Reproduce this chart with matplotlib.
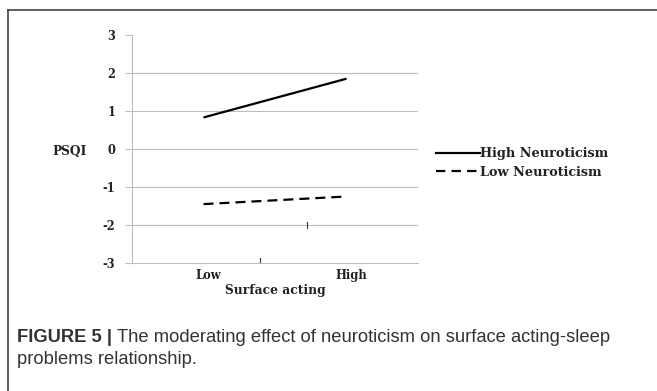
import matplotlib
matplotlib.use("Agg")
import matplotlib.pyplot as plt
import matplotlib.transforms as mtransforms
from matplotlib.lines import Line2D

# data
CATEGORIES = ["Low", "High"]
HIGH_NEURO = [0.83, 1.85]
LOW_NEURO = [-1.45, -1.25]
Y_TICKS = [-3, -2, -1, 0, 1, 2, 3]
SERIES_LABELS = ["High Neuroticism", "Low Neuroticism"]

WIDE_SERIF = "DejaVu Serif"
SANS = "Liberation Sans"
DARK = "#222222"
GRID = "#bdbdbd"

W, H = 657, 391
fig = plt.figure(figsize=(W / 100, H / 100), dpi=100)
fig.patch.set_facecolor("white")

# outer frame (top and left edges only visible)
fig.add_artist(Line2D([8 / W, 1.0], [1 - 10 / H, 1 - 10 / H], color="#444444", lw=1.2))
fig.add_artist(Line2D([8 / W, 8 / W], [0, 1 - 10 / H], color="#444444", lw=1.2))

ax = fig.add_axes([132 / W, 1 - 263 / H, (418 - 132) / W, (263 - 35) / H])
x = [0.5, 1.5]
ax.plot(x, HIGH_NEURO, color="black", lw=1.6, solid_capstyle="butt")
ax.plot(x, LOW_NEURO, color="black", lw=1.6, linestyle=(0, (4.5, 2.7)), dash_capstyle="butt")

# stray tick marks present in the original figure
ax.plot([0.895, 0.895], [-3, -2.88], color="#333333", lw=0.8)
ax.plot([1.224, 1.224], [-2.08, -1.92], color="#333333", lw=0.8)

ax.set_xlim(0, 2)
ax.set_ylim(-3, 3)
ax.set_yticks(Y_TICKS)
ax.set_yticklabels([str(v) for v in Y_TICKS], fontfamily=WIDE_SERIF, fontweight="bold", fontsize=8.3, color=DARK)
for v in Y_TICKS[1:-1]:
    ax.axhline(v, color=GRID, lw=0.8, zorder=0)
ax.set_xticks(x)
ax.set_xticklabels(CATEGORIES, fontfamily=WIDE_SERIF, fontweight="bold", fontsize=8.3, color=DARK)
ax.tick_params(axis="x", length=0, pad=4)
ax.tick_params(axis="y", length=5, color=GRID, pad=7)
shift = mtransforms.ScaledTranslation(5 / 100, 0, fig.dpi_scale_trans)
for lbl in ax.get_xticklabels():
    lbl.set_transform(lbl.get_transform() + shift)
for side in ["top", "right"]:
    ax.spines[side].set_visible(False)
for side in ["left", "bottom"]:
    ax.spines[side].set_color(GRID)
    ax.spines[side].set_linewidth(0.8)

ax.set_xlabel("Surface acting", fontfamily=WIDE_SERIF, fontweight="bold", fontsize=8.8, color=DARK, labelpad=2)
ax.set_ylabel("PSQI", fontfamily=WIDE_SERIF, fontweight="bold", fontsize=8.8, color=DARK, rotation=0,
              ha="right", va="center")
ax.yaxis.set_label_coords((87 - 132) / (418 - 132), 0.49)

handles = [
    Line2D([], [], color="black", lw=1.6),
    Line2D([], [], color="black", lw=1.6, linestyle=(0, (4.2, 2.8))),
]
fig.legend(handles, SERIES_LABELS, loc="center left", bbox_to_anchor=(424 / W, 1 - 163 / H),
           frameon=False, handlelength=3.4, handletextpad=0.05, labelspacing=0.45,
           prop={"family": WIDE_SERIF, "weight": "bold", "size": 9.3}, labelcolor=DARK)

# caption: bold lead followed by regular text
renderer = fig.canvas.get_renderer()
cap_y1 = 1 - 337 / H
cap_y2 = 1 - 359 / H
lead = fig.text(17 / W, cap_y1, "FIGURE 5 | ", fontfamily=SANS, fontweight="bold", fontsize=13.2,
                color="#333333", va="center")
lead_w = lead.get_window_extent(renderer).width
fig.text(17 / W + lead_w / W, cap_y1, "The moderating effect of neuroticism on surface acting-sleep",
         fontfamily=SANS, fontsize=13.2, color="#333333", va="center")
fig.text(17 / W, cap_y2, "problems relationship.", fontfamily=SANS, fontsize=13.2, color="#333333", va="center")

fig.savefig("out.png", dpi=100)
